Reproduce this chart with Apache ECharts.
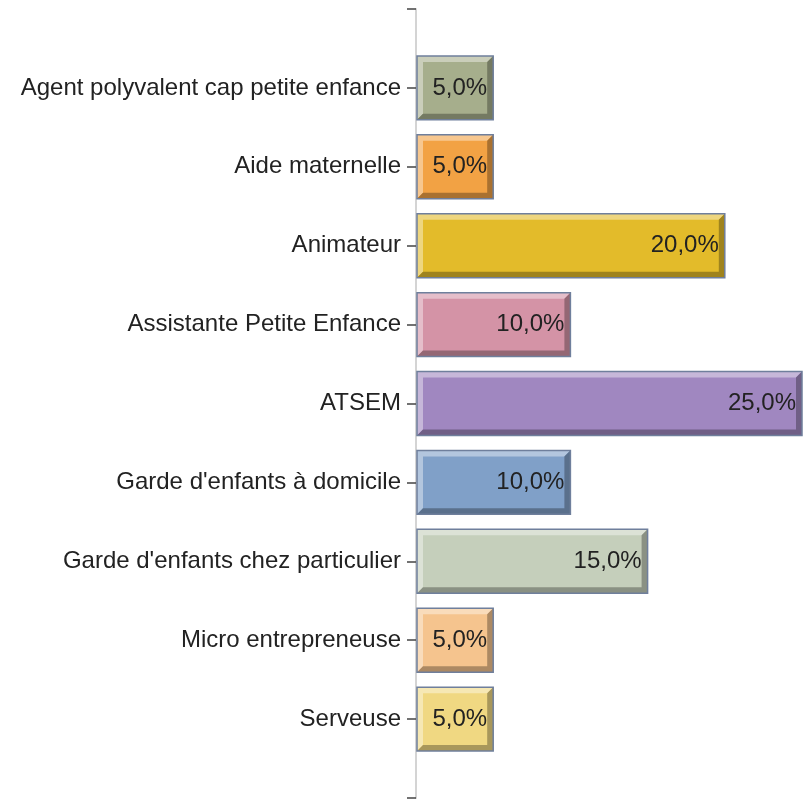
<!DOCTYPE html>
<html>
<head>
<meta charset="utf-8">
<script src="https://cdn.jsdelivr.net/npm/echarts@6/dist/echarts.min.js"></script>
<style>
  html, body { margin: 0; padding: 0; background: #fff; }
  #chart { width: 805px; height: 800px; }
</style>
</head>
<body>
<div id="chart"></div>
<script>
var categories = [
  'Agent polyvalent cap petite enfance',
  'Aide maternelle',
  'Animateur',
  'Assistante Petite Enfance',
  'ATSEM',
  "Garde d'enfants à domicile",
  "Garde d'enfants chez particulier",
  'Micro entrepreneuse',
  'Serveuse'
];
var values = [5, 5, 20, 10, 25, 10, 15, 5, 5];
var colors = ['#a6ae8c', '#f2a244', '#e3bb2a', '#d493a6', '#a087c0', '#80a0c8', '#c5cfbb', '#f5c48e', '#f0d882'];

// padding slots at both ends so the axis has end ticks like the original
var axisCats = [''].concat(categories, ['']);
var FONT = 'Liberation Sans, Arial, sans-serif';

function mix(hex, target, t) {
  var c = echarts.color.parse(hex);
  var r = Math.round(c[0] + (target - c[0]) * t);
  var g = Math.round(c[1] + (target - c[1]) * t);
  var b = Math.round(c[2] + (target - c[2]) * t);
  return 'rgb(' + r + ',' + g + ',' + b + ')';
}

function renderBar(params, api) {
  var v = api.value(0);
  var idx = api.value(1);
  var start = api.coord([0, idx]);
  var end = api.coord([v, idx]);
  var h = api.size([0, 1])[1] * 0.81;
  var x0 = start[0] + 1, x1 = end[0];
  var y0 = start[1] - h / 2, y1 = start[1] + h / 2;
  var b = 6;
  var col = colors[params.dataIndex];
  return {
    type: 'group',
    children: [
      { type: 'rect', shape: { x: x0, y: y0, width: x1 - x0, height: y1 - y0 }, style: { fill: col } },
      { type: 'polygon', shape: { points: [[x0, y0], [x1, y0], [x1 - b, y0 + b], [x0 + b, y0 + b], [x0 + b, y1 - b], [x0, y1]] },
        style: { fill: mix(col, 255, 0.4) } },
      { type: 'polygon', shape: { points: [[x1, y0], [x1, y1], [x0, y1], [x0 + b, y1 - b], [x1 - b, y1 - b], [x1 - b, y0 + b]] },
        style: { fill: mix(col, 0, 0.3) } },
      { type: 'rect', shape: { x: x0, y: y0, width: x1 - x0, height: y1 - y0 },
        style: { fill: null, stroke: '#6f7f9c', lineWidth: 1.5 } },
      { type: 'text', x: x1 - 6, y: start[1],
        style: { text: v.toFixed(1).replace('.', ',') + '%', align: 'right', verticalAlign: 'middle',
          fill: '#222', fontSize: 24, fontFamily: FONT } }
    ]
  };
}

var chart = echarts.init(document.getElementById('chart'));
chart.setOption({
  animation: false,
  grid: { left: 416, right: 3, top: 9, bottom: 2 },
  xAxis: {
    type: 'value', min: 0, max: 25, show: false
  },
  yAxis: {
    type: 'category',
    data: axisCats,
    inverse: true,
    boundaryGap: false,
    axisLine: { lineStyle: { color: '#d4d4d4', width: 2 } },
    axisTick: { length: 9, lineStyle: { color: '#444', width: 1.5 } },
    axisLabel: {
      interval: 0, margin: 15, color: '#222', fontSize: 24, fontFamily: FONT
    },
    splitLine: { show: false }
  },
  series: [{
    type: 'custom',
    renderItem: renderBar,
    encode: { x: 0, y: 1 },
    data: values.map(function (v, i) { return [v, i + 1]; })
  }]
});
</script>
</body>
</html>
